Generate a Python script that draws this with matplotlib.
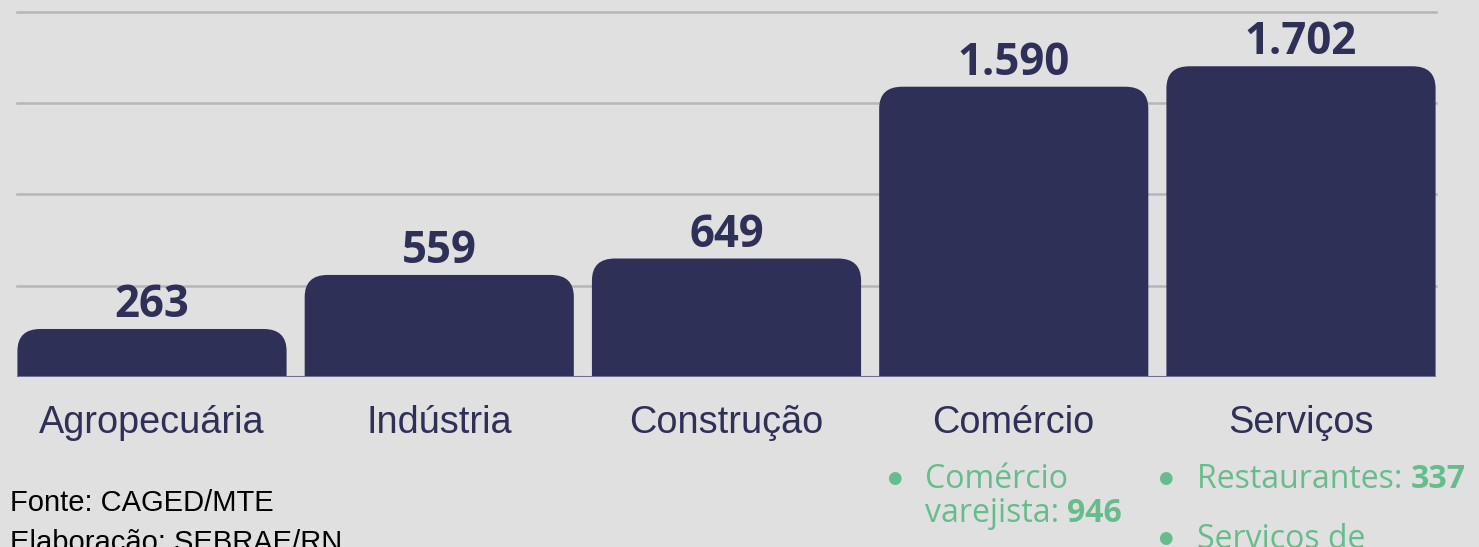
import matplotlib
matplotlib.use("Agg")
import matplotlib.pyplot as plt
from matplotlib.patches import FancyBboxPatch

# data
setores = ["Agropecuária", "Indústria", "Construção", "Comércio", "Serviços"]
valores = [263, 559, 649, 1590, 1702]
rotulos = ["263", "559", "649", "1.590", "1.702"]
grid_ticks = [500, 1000, 1500, 2000]

bg = "#e0e0e0"
navy = "#2f3057"
green = "#66bd8b"

W, H = 1479, 547
fig = plt.figure(figsize=(W / 100, H / 100), dpi=100, facecolor=bg)
ax = fig.add_axes([17 / W, (H - 377) / H, (1436 - 17) / W, 377 / H])
ax.set_facecolor(bg)
ax.set_xlim(-0.47, 4.47)
ax.set_ylim(0, 2065)
for s in ax.spines.values():
    s.set_visible(False)
ax.set_xticks([])
ax.set_yticks([])

for g in grid_ticks:
    ax.axhline(g, color="#b5b5bc", lw=1.8, zorder=0, clip_on=False)

# rounded top corners: draw taller rounded box, clipped by axes bottom
bw = 0.937
bars = ax.bar(range(len(valores)), valores, width=bw, color=navy)
px_per_x = (1436 - 17) / 4.94
px_per_y = 377 / 2065
r = 23 / px_per_x
aspect = (22 / px_per_y) / r
for rect in bars:
    x0, h = rect.get_x(), rect.get_height()
    rect.remove()
    p = FancyBboxPatch((x0, -200), bw, h + 200,
                       boxstyle=f"round,pad=0,rounding_size={r}",
                       mutation_aspect=aspect, fc=navy, ec="none", zorder=2)
    ax.add_patch(p)
ax.axhline(0, color="#6e6f92", lw=1.5, zorder=3)

for i, (v, t) in enumerate(zip(valores, rotulos)):
    ax.annotate(t, (i, v), xytext=(0, 8.5), textcoords="offset points",
                ha="center", va="baseline", fontsize=31.5, fontweight="bold",
                family="Open Sans", color=navy, zorder=4)
    ax.annotate(setores[i], (i, 0), xytext=(0, -40.5), textcoords="offset points",
                ha="center", va="baseline", fontsize=27.3, family="Liberation Sans",
                color=navy)

# source notes
fig.text(10 / W, 1 - 511 / H, "Fonte: CAGED/MTE", fontsize=21,
         family="Liberation Sans", color="black", va="baseline")
fig.text(10 / W, 1 - 551 / H, "Elaboração: SEBRAE/RN", fontsize=21,
         family="Liberation Sans", color="black", va="baseline")


# green bullet notes
def bullet(x, y):
    fig.text(x / W, 1 - y / H, "●", fontsize=12, family="DejaVu Sans",
             color=green, ha="center", va="center")


def line(x, y, parts):
    t = None
    for txt, wt in parts:
        if t is None:
            t = fig.text(x / W, 1 - y / H, txt, fontsize=23, family="Open Sans",
                         color=green, fontweight=wt, va="baseline")
        else:
            t = ax.annotate(txt, xycoords=t, xy=(1, 0), va="bottom",
                            fontsize=23, family="Open Sans", color=green,
                            fontweight=wt, annotation_clip=False)


bullet(894, 478)
line(925, 488, [("Comércio", "normal")])
line(925, 522, [("varejista: ", "normal"), ("946", "bold")])
bullet(1165, 478)
line(1197, 488, [("Restaurantes: ", "normal"), ("337", "bold")])
bullet(1165, 538)
line(1197, 548, [("Serviços de", "normal")])

fig.savefig("out.png", dpi=100, facecolor=bg)
